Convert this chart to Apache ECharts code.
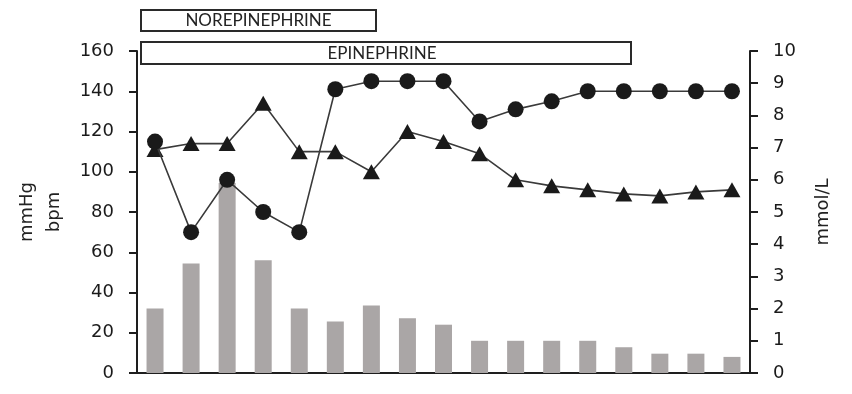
<!DOCTYPE html>
<html>
<head>
<meta charset="utf-8">
<script src="https://cdn.jsdelivr.net/npm/echarts@6/dist/echarts.min.js"></script>
<style>
  html, body { margin: 0; padding: 0; background: #fff; }
  #chart { width: 852px; height: 394px; }
</style>
</head>
<body>
<div id="chart"></div>
<script>
// Time points (hourly measurements)
const timePoints = ['1','2','3','4','5','6','7','8','9','10','11','12','13','14','15','16','17'];

// Lactate, mmol/L (right axis)
const lactate = [2.0, 3.4, 5.9, 3.5, 2.0, 1.6, 2.1, 1.7, 1.5, 1.0, 1.0, 1.0, 1.0, 0.8, 0.6, 0.6, 0.5];

// Heart rate, bpm (left axis) - circles
const heartRate = [115, 70, 96, 80, 70, 141, 145, 145, 145, 125, 131, 135, 140, 140, 140, 140, 140];

// Mean arterial pressure, mmHg (left axis) - triangles
const pressure = [111, 114, 114, 134, 110, 110, 100, 120, 115, 109, 96, 93, 91, 89, 88, 90, 91];

const leftTicks = { min: 0, max: 160, interval: 20 };
const rightTicks = { min: 0, max: 10, interval: 1 };

const ink = '#1e1e1e';
const tickFont = { fontFamily: 'DejaVu Sans', fontSize: 18, color: '#1a1a1a' };

const chart = echarts.init(document.getElementById('chart'), null, { renderer: 'canvas' });

chart.setOption({
  animation: false,
  backgroundColor: '#fff',
  grid: { left: 137, right: 102, top: 51, bottom: 21, containLabel: false },
  xAxis: {
    type: 'category',
    data: timePoints,
    axisLine: { show: true, lineStyle: { color: ink, width: 2 } },
    axisTick: { show: false },
    axisLabel: { show: false },
    splitLine: { show: false }
  },
  yAxis: [
    {
      type: 'value',
      position: 'left',
      min: leftTicks.min, max: leftTicks.max, interval: leftTicks.interval,
      name: 'mmHg\nbpm',
      nameLocation: 'middle',
      nameRotate: 90,
      nameGap: 69,
      nameTextStyle: { fontFamily: 'DejaVu Sans', fontSize: 18, color: '#222', lineHeight: 27, align: 'center' },
      axisLine: { show: true, lineStyle: { color: ink, width: 2 } },
      axisTick: { show: true, inside: false, length: 8, lineStyle: { color: ink, width: 2 } },
      axisLabel: Object.assign({ margin: 23 }, tickFont),
      splitLine: { show: false }
    },
    {
      type: 'value',
      position: 'right',
      min: rightTicks.min, max: rightTicks.max, interval: rightTicks.interval,
      name: 'mmol/L',
      nameLocation: 'middle',
      nameRotate: 90,
      nameGap: 64,
      nameTextStyle: { fontFamily: 'DejaVu Sans', fontSize: 18, color: '#222' },
      axisLine: { show: true, lineStyle: { color: ink, width: 2 } },
      axisTick: { show: true, inside: false, length: 8, lineStyle: { color: ink, width: 2 } },
      axisLabel: Object.assign({ margin: 23 }, tickFont),
      splitLine: { show: false }
    }
  ],
  series: [
    {
      name: 'Lactate',
      type: 'bar',
      yAxisIndex: 1,
      data: lactate,
      barWidth: 17,
      itemStyle: { color: '#aaa6a6' },
      z: 1
    },
    {
      name: 'MAP',
      type: 'line',
      yAxisIndex: 0,
      data: pressure,
      symbol: 'triangle',
      symbolSize: [17, 15],
      lineStyle: { color: '#3a3a3a', width: 1.6 },
      itemStyle: { color: '#1a1a1a', borderWidth: 0 },
      z: 3
    },
    {
      name: 'HR',
      type: 'line',
      yAxisIndex: 0,
      data: heartRate,
      symbol: 'circle',
      symbolSize: 16,
      lineStyle: { color: '#3a3a3a', width: 1.6 },
      itemStyle: { color: '#1a1a1a', borderWidth: 0 },
      z: 4
    }
  ],
  graphic: [
    {
      type: 'group',
      left: 140, top: 9,
      children: [
        { type: 'rect', shape: { x: 0, y: 0, width: 235, height: 21 },
          style: { fill: '#fff', stroke: '#2a2a2a', lineWidth: 2 } },
        { type: 'text', x: 117.5, y: 11,
          style: { text: 'NOREPINEPHRINE', fontFamily: 'Lato', fontSize: 17, fill: '#222',
                   align: 'center', verticalAlign: 'middle' } }
      ]
    },
    {
      type: 'group',
      left: 140, top: 41,
      children: [
        { type: 'rect', shape: { x: 0, y: 0, width: 490, height: 22 },
          style: { fill: '#fff', stroke: '#2a2a2a', lineWidth: 2 } },
        { type: 'text', x: 241, y: 11.5,
          style: { text: 'EPINEPHRINE', fontFamily: 'Lato', fontSize: 17, fill: '#222',
                   align: 'center', verticalAlign: 'middle' } }
      ]
    }
  ]
});
</script>
</body>
</html>
